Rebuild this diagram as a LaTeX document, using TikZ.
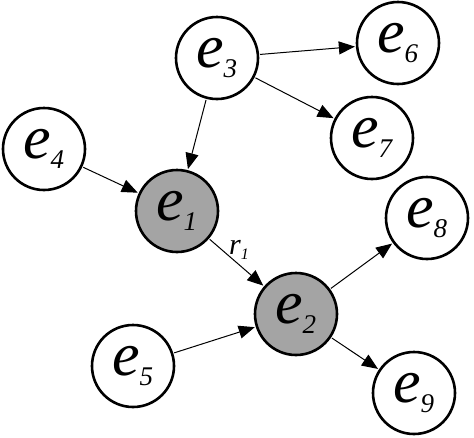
\documentclass[tikz,border=0pt]{standalone}
\usepackage{fontspec}
\setmainfont{Liberation Serif}
\usetikzlibrary{arrows.meta}
\definecolor{nodegray}{HTML}{A4A4A4}
\begin{document}
\begin{tikzpicture}[x=1pt,y=-1pt,
  ent/.style={circle,draw=black,line width=2.6pt,fill=white,minimum size=82pt,inner sep=0pt,
     font=\fontsize{62}{62}\selectfont\itshape},
  hot/.style={ent,fill=nodegray},
  lbl/.style={inner sep=0pt,font=\fontsize{30}{30}\selectfont\itshape},
  link/.style={line width=1pt,-{Triangle[length=16pt,width=13pt]},shorten >=1pt,shorten <=1pt}]
\useasboundingbox (0,0) rectangle (474,437);
\newcommand{\lab}[1]{e\kern-1pt\raisebox{-10pt}{\fontsize{27}{27}\selectfont #1}}
\node[ent] (e3) at (217,58) {\lab{3}};
\node[ent] (e6) at (398,43) {\lab{6}};
\node[ent] (e7) at (372,138) {\lab{7}};
\node[ent] (e4) at (44,149) {\lab{4}};
\node[hot] (e1) at (177,211) {\lab{1}};
\node[ent] (e8) at (427,218) {\lab{8}};
\node[hot] (e2) at (296,314) {\lab{2}};
\node[ent] (e5) at (133,366) {\lab{5}};
\node[ent] (e9) at (414,393) {\lab{9}};
\node[lbl] (r1) at (239,250) {r\raisebox{-5pt}{\fontsize{16}{16}\selectfont 1}};
\draw[link] (e3) -- (e6);
\draw[link] (e3) -- (e7);
\draw[link] (e3) -- (e1);
\draw[link] (e4) -- (e1);
\draw[link] (e1) -- (e2);
\draw[link] (e2) -- (e8);
\draw[link] (e5) -- (e2);
\draw[link] (e2) -- (e9);
\end{tikzpicture}
\end{document}
